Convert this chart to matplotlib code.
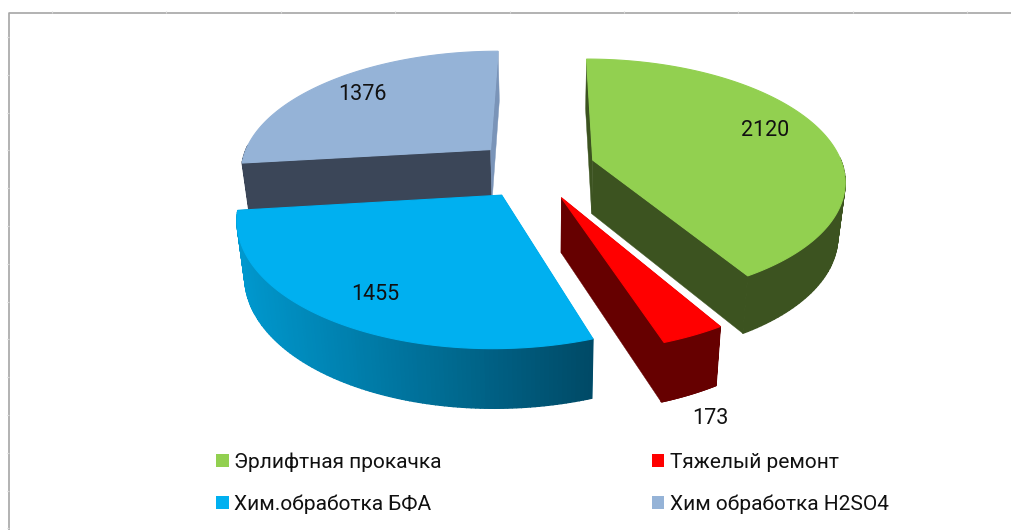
#!/usr/bin/env python3

import numpy as np
import matplotlib
matplotlib.use('Agg')
import matplotlib.pyplot as plt
from matplotlib.colors import to_rgb
from matplotlib.patches import Patch, Polygon

plt.rcParams['font.family'] = ['Roboto', 'DejaVu Sans']

categories = ['Эрлифтная прокачка', 'Тяжелый ремонт', 'Хим.обработка БФА', 'Хим обработка H2SO4']
values = [2120, 173, 1455, 1376]

top_colors = ['#92D050', '#FF0000', '#00B0F0', '#95B3D7']
side_colors = ['#3C5320', '#660000', '#0098CE', '#3B4658']
side_end_colors = ['#3C5320', '#660000', '#004A66', '#3B4658']
end_face_colors = ['#3C5320', '#660000', '#004A66', '#7A94B8']

# layout -------------------------------------------------------------------
explode = [0.21, 0.213, 0.255, 0.30]
explode_turn = [-13, 10, 11, -2]     # degrees, apex direction vs. slice middle
label_pos = [(765, 130), (710, 419), (375, 294), (362, 94)]

# perspective projection of the pie plane, in figure pixels
CX, CY = 547, 172
SX, SY = 252, 120.7
K = 0.16
DEPTH = 54
SHRINK = 0.975


def project(px, py):
    den = 1 + K * py
    return CX + SX * px / den, CY - SY * py / den


def drop(x, y, py):
    ''' Same point on the lower face of the pie '''
    return CX + (x - CX) * SHRINK, y + DEPTH / (1 + 0.5 * K * py)


def main():
    fig = plt.figure(figsize=(10.11, 5.30), dpi=100)
    ax = fig.add_axes([0, 0, 1, 1])
    ax.set_xlim(0, 1011)
    ax.set_ylim(530, 0)
    ax.axis('off')

    # outer frame, with the faint sheet grid marks around it
    ax.plot([1011, 9, 9], [13, 13, 530], color='#A6A6A6', lw=1.2, zorder=1)
    ax.vlines(np.arange(52, 1011, 114.4), 11, 13, color='#D9D9D9', lw=0.8)
    ax.hlines(np.arange(37, 530, 37.8), 7, 9, color='#D9D9D9', lw=0.8)

    edges = np.concatenate([[0], np.cumsum(values)]) / np.sum(values) * 360
    order = [3, 0, 1, 2]    # back to front
    for i in order:
        a0, a1 = edges[i], edges[i + 1]
        mid = np.deg2rad((a0 + a1) / 2 + explode_turn[i])
        ox, oy = explode[i] * np.sin(mid), explode[i] * np.cos(mid)
        t = np.deg2rad(np.linspace(a0, a1, 120))
        px = ox + np.sin(t)
        py = oy + np.cos(t)
        x, y = project(px, py)
        xb, yb = drop(x, y, py)
        ax_, ay_ = project(ox, oy)
        axb, ayb = drop(ax_, ay_, oy)

        c0 = np.array(to_rgb(side_colors[i]))
        c1 = np.array(to_rgb(side_end_colors[i]))

        # radial side faces
        for j, col in ((0, side_colors[i]), (-1, end_face_colors[i])):
            ax.add_patch(Polygon(
                [(ax_, ay_), (x[j], y[j]), (xb[j], yb[j]), (axb, ayb)],
                closed=True, fc=col, ec=col, lw=0.3, zorder=2))
        # rim, in small strips so the shading can run along it
        xmin, xmax = x.min(), x.max()
        for j in range(len(t) - 1):
            if np.cos(t[j]) > 0.03:
                continue    # back of the pie, hidden
            f = 1 - (0.5 * (x[j] + x[j + 1]) - xmin) / (xmax - xmin)
            col = c0 * f + c1 * (1 - f)
            ax.add_patch(Polygon(
                [(x[j], y[j]), (x[j + 1], y[j + 1]), (xb[j + 1], yb[j + 1]), (xb[j], yb[j])],
                closed=True, fc=col, ec=col, lw=1.0, zorder=2))
        # top face
        pts = np.vstack([[ax_, ay_], np.column_stack([x, y])])
        ax.add_patch(Polygon(pts, closed=True, fc=top_colors[i], ec=top_colors[i], lw=0.8, zorder=2))
        ax.text(*label_pos[i], str(values[i]), fontsize=15.5, color='#111111',
                ha='center', va='center', zorder=3)

    handles = [Patch(fc=c, ec='none') for c in top_colors]
    # ncol fills column by column: green, blue | red, gray
    idx = [0, 2, 1, 3]
    ax.legend(
        [handles[i] for i in idx], [categories[i] for i in idx],
        ncol=2, frameon=False, loc='upper left',
        bbox_to_anchor=(216 / 1011, 1 - 452 / 530),
        fontsize=15, handlelength=0.6, handleheight=0.6, handletextpad=0.26,
        columnspacing=10.1, labelspacing=1.1, labelcolor='#111111',
        borderpad=0, borderaxespad=0)

    fig.savefig('out.png', dpi=100)


if __name__ == '__main__':
    main()
